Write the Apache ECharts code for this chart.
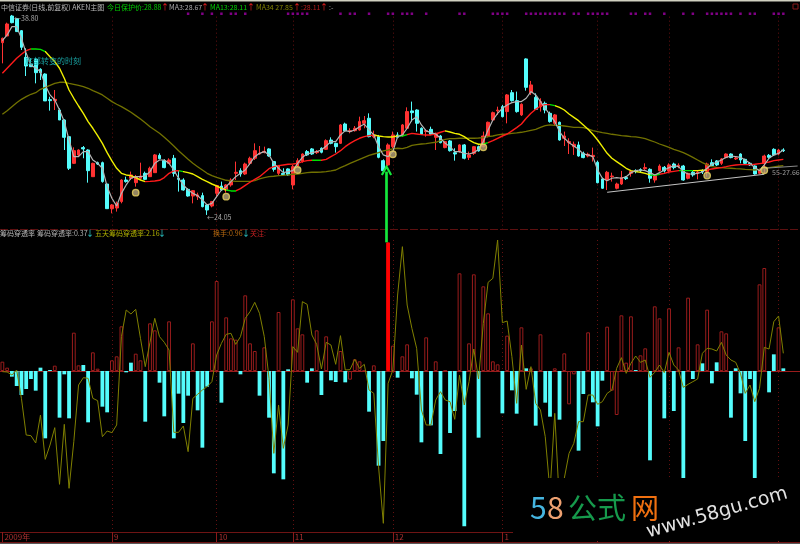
<!DOCTYPE html>
<html><head><meta charset="utf-8">
<style>html,body{margin:0;padding:0;background:#000}#c{width:800px;height:544px}</style>
<script src="https://cdn.jsdelivr.net/npm/echarts@6/dist/echarts.min.js"></script>
</head><body><div id="c"></div>
<script>
const categoryCount = 168;
const monthStarts = [23,45,61,82,105,125,140,163];
const tickLabels = {0:'2009年',23:'9',45:'10',61:'11',82:'12',105:'1',125:'2',140:'3',163:'4'};

const opens = [36.80,37.30,38.80,38.60,37.70,35.70,35.20,35.55,34.80,34.45,
32.53,32.45,31.75,31.00,29.75,27.75,28.38,28.93,28.75,26.75,
27.80,27.80,26.20,24.35,24.40,24.88,26.50,26.63,26.30,26.63,
27.00,26.75,27.05,28.35,27.95,27.75,28.13,26.63,26.50,25.80,
25.30,25.25,25.33,24.63,24.55,25.50,26.05,25.75,26.13,27.00,
27.20,26.95,27.75,28.13,28.45,28.58,28.83,27.88,27.00,27.00,
27.33,26.13,27.55,27.88,28.63,28.83,28.55,28.88,28.80,29.50,
29.25,29.25,30.70,30.13,30.20,30.25,30.75,31.13,29.75,29.75,
27.95,27.63,29.00,29.88,29.88,30.38,31.68,31.75,30.38,30.13,
30.30,29.70,29.80,28.93,29.43,28.55,28.63,29.13,28.20,28.50,
29.00,29.00,29.80,31.00,31.68,32.00,31.63,33.05,32.45,31.38,
35.58,33.05,32.70,32.00,32.25,31.50,30.75,30.83,29.63,29.30,
29.00,29.13,28.50,28.30,28.25,27.83,26.58,26.50,26.75,25.88,
26.20,26.68,27.00,27.20,27.28,27.35,27.30,26.50,27.20,27.45,
27.18,27.70,27.53,27.55,26.63,27.08,27.03,27.18,27.13,27.80,
27.93,27.75,28.18,28.45,28.08,28.45,28.05,27.75,27.55,27.00,
27.75,28.35,28.80,28.45,28.75];
const closes = [37.13,38.20,38.30,37.63,36.45,35.05,35.00,34.55,34.55,32.43,
32.45,32.55,31.00,29.70,27.38,28.70,28.75,28.83,27.20,27.75,
27.70,26.38,24.35,24.63,24.75,26.50,26.38,26.88,26.75,26.80,
26.55,27.38,28.38,28.10,27.43,28.00,27.00,26.55,25.75,25.30,
25.70,25.38,24.50,24.25,24.88,26.08,25.75,26.13,26.50,27.08,
26.95,27.70,28.13,28.70,28.50,28.65,28.30,27.30,27.55,26.90,
26.88,27.50,27.95,28.45,28.38,28.45,28.63,28.58,29.45,29.25,
29.00,30.63,30.18,30.20,30.38,30.88,30.95,29.75,29.88,28.20,
27.20,29.13,29.88,29.70,30.63,31.63,31.55,30.75,29.93,30.20,
29.93,30.00,29.30,29.38,28.70,28.45,29.13,28.13,28.38,29.00,
28.68,29.80,30.83,31.55,31.75,31.25,32.88,32.45,31.63,32.18,
33.45,33.63,31.80,32.38,31.75,30.88,31.38,29.50,29.80,29.38,
29.18,28.30,28.18,28.43,28.35,26.30,25.88,27.08,26.80,26.20,
26.68,26.60,27.13,27.13,27.20,27.43,26.63,26.88,27.55,27.18,
27.63,27.43,27.60,26.50,27.00,26.88,27.10,27.10,27.70,27.58,
27.63,28.08,28.45,28.18,28.15,28.00,27.75,27.63,26.95,27.25,
28.30,28.20,28.38,28.75,28.70];
const lows = [35.25,37.30,38.25,37.63,36.25,34.30,35.00,33.75,34.00,32.43,
31.70,31.75,31.00,28.75,27.25,27.70,28.25,28.13,26.30,26.75,
27.63,26.30,24.35,24.00,24.13,24.75,26.30,26.50,26.00,26.50,
26.50,26.75,27.05,28.05,27.38,27.70,26.75,25.63,25.70,25.25,
24.75,25.00,24.45,23.88,24.45,25.20,25.70,25.55,26.00,26.50,
26.75,26.88,27.63,28.00,28.38,28.50,28.25,27.13,26.88,26.80,
26.80,25.80,27.50,27.80,28.30,28.38,28.45,28.50,28.75,29.18,
28.55,29.20,30.13,30.00,30.13,30.20,30.38,29.70,29.63,28.13,
27.00,27.55,28.88,29.63,29.75,30.30,30.88,30.13,29.88,29.75,
29.88,28.75,29.25,28.88,28.63,27.95,28.55,28.05,28.00,28.38,
28.63,28.95,29.70,30.95,31.38,31.20,30.75,32.38,31.55,31.30,
33.20,32.88,31.75,31.63,31.50,30.80,30.55,29.45,29.05,28.45,
28.38,28.25,28.13,28.20,27.88,26.25,25.83,25.75,26.38,25.80,
26.13,26.50,26.75,27.00,27.05,27.20,26.30,26.30,27.13,27.05,
27.00,27.30,27.38,26.45,26.55,26.75,26.55,26.95,26.75,27.50,
27.55,27.63,28.13,28.13,28.00,27.75,27.70,27.55,26.90,26.95,
27.00,28.10,28.30,28.35,28.60];
const highs = [37.18,38.30,38.88,38.63,37.75,36.38,35.63,35.63,34.88,34.50,
32.75,33.25,31.88,31.05,29.80,28.95,28.80,29.05,28.80,27.80,
27.88,27.88,26.25,24.70,24.88,26.55,26.75,27.13,26.88,27.80,
27.13,27.50,28.45,28.50,28.05,28.13,28.38,27.25,26.63,25.88,
25.75,25.55,25.55,24.70,24.93,26.13,26.38,26.20,26.63,27.88,
27.38,27.80,28.25,29.25,29.05,29.00,28.88,27.93,27.63,27.38,
27.38,27.63,28.13,28.50,28.75,28.90,28.75,28.95,29.55,29.70,
29.30,30.70,30.80,30.38,30.55,31.25,31.30,31.50,30.20,29.88,
28.05,29.25,30.13,30.08,30.70,31.95,32.38,31.80,30.45,30.30,
30.50,30.05,29.88,29.43,29.50,28.88,29.18,29.20,28.63,29.05,
29.08,30.13,30.88,31.63,32.00,32.13,32.95,33.25,33.13,32.25,
35.63,33.93,33.00,32.63,32.38,31.63,31.45,30.88,30.13,29.63,
29.38,29.38,28.63,28.55,28.93,27.95,26.68,27.18,27.05,26.30,
27.18,26.80,27.20,27.30,27.38,27.75,27.38,26.95,27.68,27.55,
27.75,27.80,27.75,27.63,27.05,27.20,27.25,27.30,27.80,28.05,
28.00,28.15,28.50,28.50,28.25,28.50,28.10,27.85,27.60,27.35,
28.40,28.45,28.88,28.83,28.88];

const ma3 = [36.95,37.38,38.00,38.00,37.13,36.00,35.13,34.88,34.63,33.63,32.88,32.50,31.75,30.88,29.50,28.25,28.25,28.63,28.63,28.00,27.75,27.38,26.00,25.13,24.55,25.50,26.13,26.63,26.75,26.75,26.80,27.13,27.75,28.00,28.00,27.75,27.25,26.63,26.13,25.75,25.50,25.33,25.00,24.63,24.75,25.25,25.75,26.00,26.38,26.75,27.00,27.25,27.75,28.25,28.50,28.63,28.38,27.75,27.38,27.05,27.13,27.20,27.75,28.20,28.45,28.55,28.63,28.75,29.05,29.38,29.38,29.88,30.20,30.13,30.25,30.50,30.70,30.25,29.88,29.00,28.38,28.25,28.63,29.75,
29.88,30.38,31.00,31.25,30.63,30.18,30.05,29.95,29.63,29.25,29.00,28.63,28.63,28.50,28.45,28.55,28.80,29.38,30.25,31.00,31.50,31.88,32.13,32.30,32.38,32.38,32.63,33.13,32.88,32.38,31.88,31.38,30.88,30.13,29.63,29.30,29.05,28.80,28.45,28.38,28.25,27.25,26.63,26.45,26.63,26.68,26.63,26.75,27.05,27.20,27.25,27.20,27.05,26.88,27.05,27.25,27.43,27.58,27.50,27.13,26.95,26.95,27.00,27.10,27.38,27.68,27.83,28.00,28.20,28.30,28.25,28.20,28.00,27.75,27.43,27.20,27.63,28.13,28.38,28.50,28.75];
const ma13 = [34.50,34.88,35.25,35.63,35.93,36.20,36.33,36.33,36.30,36.13,35.75,35.38,34.88,34.13,33.25,32.63,32.05,31.50,30.88,30.38,29.83,29.25,28.55,27.93,27.38,27.00,26.88,26.83,26.68,26.50,26.38,26.40,26.43,26.48,26.68,27.00,27.18,27.20,27.13,27.05,26.95,26.75,26.55,26.38,26.20,26.05,25.88,25.75,25.68,25.68,25.85,26.10,26.33,26.55,26.75,27.05,27.35,27.50,27.58,27.63,27.68,27.70,27.75,27.88,27.95,27.98,27.98,27.98,28.05,28.25,28.45,28.70,29.00,29.25,29.45,29.63,29.75,29.83,29.88,29.80,29.75,29.73,29.73,29.80,
29.80,29.90,30.00,29.95,29.90,29.88,29.88,29.95,30.08,30.18,30.10,30.00,29.93,29.75,29.50,29.30,29.18,29.20,29.30,29.45,29.63,29.80,29.95,30.18,30.43,30.70,31.13,31.50,31.80,32.05,32.15,32.15,32.08,31.95,31.75,31.45,31.20,30.95,30.63,30.30,29.93,29.50,29.00,28.50,28.13,27.88,27.63,27.38,27.20,27.13,27.08,27.00,26.88,26.85,26.93,27.00,27.10,27.15,27.20,27.20,27.20,27.20,27.20,27.23,27.25,27.33,27.38,27.43,27.50,27.58,27.63,27.65,27.65,27.65,27.68,27.73,27.78,27.85,27.95,28.00,28.05];
const ma34 = [31.43,31.70,32.00,32.30,32.55,32.75,32.93,33.05,33.30,33.45,33.60,33.75,33.83,33.83,33.75,33.68,33.60,33.50,33.38,33.20,33.05,32.88,32.63,32.38,32.18,32.00,31.80,31.58,31.33,31.08,30.80,30.50,30.25,30.00,29.70,29.38,29.05,28.70,28.38,28.05,27.75,27.50,27.25,27.00,26.83,26.70,26.58,26.48,26.43,26.40,26.40,26.40,26.40,26.45,26.58,26.68,26.75,26.78,26.83,26.85,26.88,26.93,26.95,27.00,27.05,27.08,27.08,27.10,27.13,27.18,27.25,27.43,27.58,27.75,27.90,28.05,28.20,28.35,28.45,28.55,28.68,28.75,28.83,28.88,
28.85,28.95,29.10,29.15,29.20,29.23,29.28,29.33,29.45,29.55,29.60,29.60,29.63,29.63,29.63,29.63,29.65,29.68,29.75,29.80,29.88,29.93,29.95,30.00,30.03,30.08,30.15,30.23,30.30,30.45,30.58,30.63,30.60,30.60,30.55,30.50,30.45,30.45,30.43,30.33,30.20,30.13,30.05,30.00,29.93,29.88,29.83,29.80,29.75,29.73,29.68,29.60,29.48,29.35,29.20,29.08,28.95,28.80,28.68,28.55,28.38,28.20,28.00,27.80,27.63,27.50,27.45,27.43,27.40,27.38,27.35,27.33,27.30,27.28,27.25,27.30,27.38,27.43,27.48,27.53,27.58];
const ma13Stages = [[0,6,'#ff1a1a'],[6,9,'#00e000'],[9,30,'#f0f000'],[30,37,'#ff1a1a'],[37,38,'#00e000'],[38,47,'#f0f000'],[47,49,'#00e000'],[49,65,'#ff1a1a'],[65,67,'#00e000'],[67,78,'#ff1a1a'],[78,83,'#f0f000'],[83,85,'#00e000'],[85,93,'#ff1a1a'],[93,101,'#f0f000'],[101,102,'#00e000'],[102,115,'#ff1a1a'],[115,116,'#00e000'],[116,136,'#f0f000'],[136,138,'#00e000'],[138,142,'#ff1a1a'],[142,145,'#00e000'],[145,148,'#f0f000'],[148,165,'#ff1a1a']];
const signalDots = [39,42,44,46,48,49,51,60,61,62,63,64,71,73,74,77,81,82,84,85,86,89,96,97,103,104,105,106,110,111,112,113,114,115,116,117,118,120,121,123,124,125,126,127,132,133,135,136,139,143,145,148,149,150,151,152,153,155,157,158,162,163,164];
const signalPrice = 38.97;
const bagIndex = [28,47,62,82,101,148,160];
const bagPrice = [25.55,25.25,27.25,28.43,28.95,26.83,27.23];

const penetration = [1.12,0.40,-0.68,-1.80,-2.88,-2.16,-0.96,-2.36,0.40,-8.08,0.12,0.64,-5.60,-0.40,-5.68,4.60,0.68,0.72,-6.16,2.24,
0.28,-4.28,-4.96,1.28,1.76,5.36,-0.16,1.00,2.08,1.28,-6.08,5.72,4.88,-1.40,-5.44,5.96,-8.08,-2.72,-6.24,-2.96,
3.32,-4.72,-9.20,-1.88,5.96,10.80,-3.80,6.44,3.92,3.76,-0.40,9.08,3.32,2.40,-2.96,2.84,-5.60,-12.28,7.08,-13.00,
0.20,8.60,5.12,4.40,-1.40,0.32,4.88,-2.88,4.16,-1.12,-1.32,2.40,-1.36,-1.04,1.40,1.16,0.04,-4.88,0.68,-11.36,
-8.40,15.44,3.04,-0.80,1.76,3.20,-0.88,-2.84,-8.56,4.04,-6.52,1.16,-9.96,0.04,-7.44,-4.80,11.72,-18.64,3.32,11.60,
-8.00,10.16,6.92,1.16,0.80,-5.08,4.24,-2.32,-5.12,5.24,0.32,0.32,-6.56,4.40,-3.80,-5.48,0.32,-5.84,2.12,-4.00,
-0.40,-9.56,-2.76,4.64,-3.76,-6.64,-1.16,5.32,-2.36,-5.28,6.68,1.00,6.56,0.12,1.88,2.72,-10.72,7.76,6.32,-5.68,
7.52,-4.80,2.84,-14.08,8.80,-0.96,3.20,0.92,7.36,-1.48,1.04,4.76,4.52,-5.60,0.32,-2.68,-8.40,-0.96,-13.60,10.40,
12.36,-2.56,2.00,5.24,0.32];
const barKinds = 'rrcccccccccrcccrrccr'+'rccrrrccrrcrrccrcccc'+'rcccrrcrrrcrrrcrccrc'+'crrrccrcrccrcrrrrcrc'+'cRrcrrcccrcrcrccrcrr'+'crrrrcrccrcrcrccrcrr'+'rccrcccrrrrrrcrrcrrc'+'rcrcrcrcrccrrccccccr'+'rccrc';
const fiveDay = [-0.08,-0.12,-0.48,0.12,-3.28,-7.68,-7.76,-8.64,-5.28,-10.60,-8.88,-6.80,-13.60,-6.40,-14.08,-8.48,-1.68,-0.80,-0.88,-3.28,-3.56,-7.88,-7.20,-7.40,-6.48,4.12,7.32,6.84,7.40,3.92,0.52,3.44,6.32,4.12,3.44,2.52,-7.36,-7.36,-6.60,-9.68,-3.28,-2.80,-2.28,-1.88,-1.28,1.92,3.32,4.40,4.52,3.20,4.12,6.32,7.12,8.24,6.92,4.12,-0.88,
-9.88,-4.08,-9.28,-6.48,2.92,2.24,8.32,8.00,4.32,3.20,0.24,3.44,3.12,0.80,4.24,0.12,0.16,1.40,0.32,0.80,-2.28,-2.68,-11.48,-18.28,-1.48,0.12,9.12,14.92,7.92,5.12,2.72,-4.68,-6.48,-6.48,-3.48,-2.48,-3.48,-3.68,-5.80,-0.48,-4.08,-1.28,2.64,-0.96,5.72,10.64,11.12,15.72,5.80,6.00,1.72,-3.88,3.12,-2.20,0.52,
-3.88,-4.68,-7.88,-14.48,-5.08,-16.08,-12.88,-9.88,-8.68,-6.08,-6.08,-2.88,-2.88,-4.00,-3.68,-2.68,-2.28,0.32,1.60,-0.28,0.92,1.80,1.04,1.32,-0.76,-0.16,0.72,-0.20,2.24,0.72,0.12,-1.96,-1.60,-1.28,-0.96,2.12,2.72,2.64,2.40,3.44,1.92,1.32,1.04,-0.28,-2.68,-1.68,-3.68,-2.08,2.84,2.64,5.92,6.60,2.12];
const trendLow = [[127,25.58],[160,26.93]];
const trendHigh = [[160,27.38],[167,27.55]];
const arrowBar = 81, arrowTipPrice = 27.58;

const categories = Array.from({length:categoryCount},(_,i)=>String(i));
const font = '"Noto Sans CJK SC","Noto Sans",sans-serif';
const RED='#ff3232', CYAN='#54fcfc', DARK='#9a1c1c', GRID='#641010';
const T=(x,y,text,fill,size=7,extra={})=>({type:'text',x,y,z:50,silent:true,style:{text,fill,font:size+'px '+font,textVerticalAlign:'middle',...extra}});

const chart = echarts.init(document.getElementById('c'),null,{renderer:'canvas'});
const monthLineTop = monthStarts.map(m=>[{coord:[m,38.75]},{coord:[m,22.75]}]);
const monthLineBot = monthStarts.map(m=>[{coord:[m,15.72]},{coord:[m,-19.32]}]);
const monthMark = (data)=>({silent:true,symbol:'none',z:1,label:{show:false},animation:false,lineStyle:{color:GRID,type:[1,3],width:1},data});

chart.setOption({
  animation:false, backgroundColor:'#000',
  grid:[{left:0,width:800,top:0,height:230},{left:0,width:800,top:230,height:302}],
  xAxis:[
    {type:'category',gridIndex:0,data:categories,show:false},
    {type:'category',gridIndex:1,data:categories,position:'bottom',
     axisLine:{onZero:false,lineStyle:{color:'#6e1414'}},
     axisTick:{show:true,alignWithLabel:true,length:10,interval:(i)=>tickLabels[i]!==undefined,lineStyle:{color:'#8a1a1a'}},
     axisLabel:{show:true,interval:(i)=>tickLabels[i]!==undefined,formatter:(v,i)=>tickLabels[i]||'',color:'#a83030',fontSize:8,fontFamily:font,align:'left',margin:1,padding:[0,0,0,2]},
     splitLine:{show:false}}
  ],
  yAxis:[
    {type:'value',gridIndex:0,min:22.75,max:40,show:false,splitLine:{show:false}},
    {type:'value',gridIndex:1,min:-19.32,max:16.92,show:false,splitLine:{show:false}}
  ],
  visualMap:[{show:false,type:'piecewise',seriesIndex:2,dimension:0,
    pieces:ma13Stages.map(s=>({gte:s[0],lt:s[1],color:s[2]})),outOfRange:{color:'#ff1a1a'}}],
  series:[
    {name:'K',type:'candlestick',xAxisIndex:0,yAxisIndex:0,z:2,barWidth:3.2,
     data:opens.map((o,i)=>[o,closes[i],lows[i],highs[i]]),
     itemStyle:{color:RED,color0:CYAN,borderColor:RED,borderColor0:CYAN,borderWidth:1}},
    {name:'MA34',type:'line',xAxisIndex:0,yAxisIndex:0,z:3,data:ma34,showSymbol:false,lineStyle:{color:'#717100',width:1.3},itemStyle:{color:'#717100'}},
    {name:'MA13',type:'line',xAxisIndex:0,yAxisIndex:0,z:4,data:ma13,showSymbol:false,lineStyle:{width:1.4}},
    {name:'MA3',type:'line',xAxisIndex:0,yAxisIndex:0,z:5,data:ma3,showSymbol:false,lineStyle:{color:'#b4b4b4',width:1.2},itemStyle:{color:'#b4b4b4'},
     markLine:{silent:true,symbol:'none',label:{show:false},animation:false,lineStyle:{color:'#c4c4c4',type:'solid',width:1},
       data:[[{coord:trendLow[0]},{coord:trendLow[1]}],[{coord:trendHigh[0],lineStyle:{color:'#8a8a8a'}},{coord:trendHigh[1]}]]}},
    {name:'dots',type:'scatter',xAxisIndex:0,yAxisIndex:0,z:6,symbol:'rect',symbolSize:2.5,itemStyle:{color:'#a000a8'},data:signalDots.map(i=>[i,signalPrice])},
    {name:'bags',type:'scatter',xAxisIndex:0,yAxisIndex:0,z:7,symbol:'circle',symbolSize:6.5,itemStyle:{color:'#b8a678',borderColor:'#f0d860',borderWidth:1.3},data:bagIndex.map((v,i)=>[v,bagPrice[i]])},
    {name:'penetration',type:'bar',xAxisIndex:1,yAxisIndex:1,z:2,barWidth:3.8,
     data:penetration.map((v,i)=>{const k=barKinds[i];return {value:v,itemStyle:
        k==='c'?{color:CYAN,borderWidth:0}:k==='R'?{color:'#ff0000',borderColor:'#ff0000',borderWidth:1}:{color:'#000',borderColor:DARK,borderWidth:1}};}),
     markLine:{silent:true,symbol:'none',label:{show:false},animation:false,z:1,lineStyle:{color:DARK,type:'solid',width:1},data:[{yAxis:0}]}},
    {name:'fiveDay',type:'line',xAxisIndex:1,yAxisIndex:1,z:4,data:fiveDay,showSymbol:false,lineStyle:{color:'#808000',width:1},itemStyle:{color:'#808000'}},
    {name:'monthsTop',type:'line',xAxisIndex:0,yAxisIndex:0,z:1,data:[],markLine:monthMark(monthLineTop)},
    {name:'monthsBottom',type:'line',xAxisIndex:1,yAxisIndex:1,z:1,data:[],markLine:monthMark(monthLineBot)}
  ]
});

const tipPx = chart.convertToPixel({gridIndex:0},[arrowBar,arrowTipPrice]);
const barPx = chart.convertToPixel({gridIndex:1},[arrowBar,penetration[arrowBar]]);
const stemX = tipPx[0]-1.6, tipY = tipPx[1];
const BW = 513;
const elements = [
  {type:'rect',z:40,shape:{x:0,y:0,width:800,height:1.5},style:{fill:'#d0d0c0'},silent:true},
  {type:'line',z:40,shape:{x1:0,y1:229.5,x2:800,y2:229.5},style:{stroke:'#5c1010',lineWidth:1,lineDash:[8,2]},silent:true},
  {type:'line',z:40,shape:{x1:0,y1:542.5,x2:800,y2:542.5},style:{stroke:'#6e1414',lineWidth:1},silent:true},
  {type:'rect',z:40,shape:{x:0,y:543.2,width:800,height:1},style:{fill:'#777'},silent:true},
  {type:'rect',z:40,shape:{x:793,y:4,width:5,height:5},style:{fill:'none',stroke:'#8a1a1a',lineWidth:1},silent:true},
  {type:'line',z:45,shape:{x1:stemX,y1:tipY+6,x2:stemX,y2:barPx[1]},style:{stroke:'#14e83c',lineWidth:2.7},silent:true},
  {type:'polyline',z:45,shape:{points:[[stemX-4.6,tipY+9.5],[stemX,tipY+1],[stemX+4.6,tipY+9.5]]},style:{stroke:'#14e83c',lineWidth:2.2,fill:'none'},silent:true},
  {type:'rect',z:46,shape:{x:BW,y:478,width:800-BW,height:63},style:{fill:'#000'},silent:true},
  T(530,508,'5','#45b5e0',30),T(547,508,'8','#eea070',30),
  T(568,508,'公式','#169a4c',29),T(631,508,'网','#f07010',28),
  {type:'text',x:717,y:513,rotation:0.276,z:50,silent:true,style:{text:'www.58gu.com',fill:'#e2e2e2',font:'19px "DejaVu Sans"',textAlign:'center',textVerticalAlign:'middle'}},
  T(1,7,'中信证券(日线,前复权) AKEN主图','#b8b8b8'),
  T(107,7,'今日保护价:28.88','#00d000'),T(161,7,'↑','#ff2020',8),
  T(169,7,'MA3:28.67','#a8a8a8'),T(201,7,'↑','#ff2020',8),
  T(210,7,'MA13:28.11','#00d000'),T(247,7,'↑','#ff2020',8),
  T(256,7,'MA34 27.85','#808000'),T(293,7,'↑','#ff2020',8),
  T(301,7,':28.11','#b01c1c'),T(320,7,'↑','#ff2020',8),T(329,7,':-','#a8a8a8'),
  T(14,18,'←38.80','#a8a8a8'),T(207,217,'←24.05','#a8a8a8'),
  T(25,61,'底部转变的时刻','#18a0a0',8),
  T(772,172,'55-27.66','#9a9a9a'),
  T(0,233,'筹码穿透率','#b8b8b8'),T(37,233,'筹码穿透率:0.37','#b0b0b0'),T(86,233,'↓','#30e0e0',8),
  T(95,233,'五天筹码穿透率:2.16','#b0b000'),T(158,233,'↓','#30e0e0',8),
  T(213,233,'换手:0.96','#b86a10'),T(242,233,'↓','#30e0e0',8),T(250,233,'关注:','#c02020')
];
chart.setOption({graphic:{elements}});
</script></body></html>
